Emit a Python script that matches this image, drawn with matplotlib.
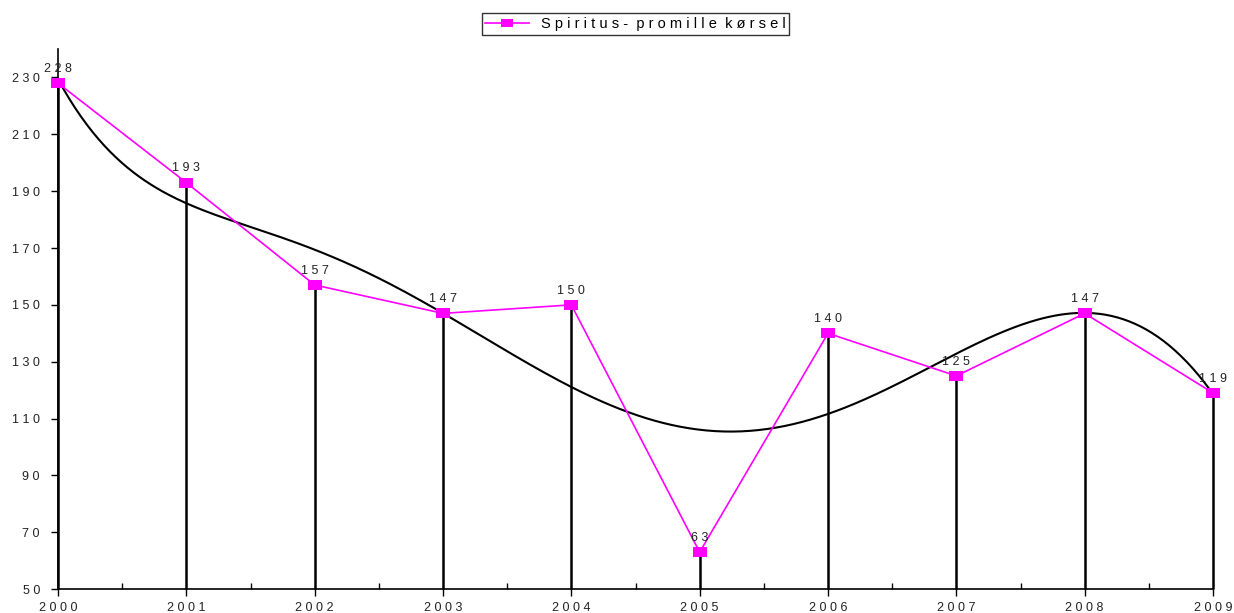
import numpy as np
import matplotlib
matplotlib.use('Agg')
import matplotlib.pyplot as plt
from matplotlib.ticker import FixedLocator

plt.rcParams['font.family'] = ['Liberation Sans', 'DejaVu Sans']

# Data
years = [2000, 2001, 2002, 2003, 2004, 2005, 2006, 2007, 2008, 2009]
values = [228, 193, 157, 147, 150, 63, 140, 125, 147, 119]
series_name = "Spiritus-promille kørsel"


def spaced(s):
    # Excel-export look: wide letter spacing
    return " ".join(str(s))


# rectangular (wider than tall) marker like the Excel export
rect_marker = [(-1.35, -1), (1.35, -1), (1.35, 1), (-1.35, 1), (-1.35, -1)]

fig = plt.figure(figsize=(12.34, 6.13), dpi=100)
ax = fig.add_axes([0.047, 0.039, 0.936, 0.881])

x = np.arange(len(years))

# drop lines to the axis
ax.vlines(x, 50, values, colors='black', linewidth=1.8, zorder=2, clip_on=False)

# polynomial trendline (order 6, like Excel)
coef = np.polyfit(x, values, 6)
xs = np.linspace(0, len(years) - 1, 400)
ax.plot(xs, np.polyval(coef, xs), color='black', linewidth=1.5, zorder=3, clip_on=False)

# series
ax.plot(x, values, color='#ff00ff', linewidth=1.2, marker=rect_marker, markersize=10,
        markerfacecolor='#ff00ff', markeredgecolor='#ff00ff', markeredgewidth=0,
        zorder=4, clip_on=False,
        label=spaced("Spiritus-") + "  " + spaced("promille") + "  " + spaced("kørsel"))

for xi, v in zip(x, values):
    ax.annotate(spaced(v), (xi, v), textcoords='offset points', xytext=(0, 6),
                ha='center', va='bottom', fontsize=9, color='#222222', zorder=5)

ax.set_xlim(0, len(years) - 1)
ax.set_ylim(50, 240)

ax.yaxis.set_major_locator(FixedLocator(list(range(50, 231, 20))))
ax.set_yticklabels([spaced(v) for v in range(50, 231, 20)], fontsize=9)
ax.set_xticks(x)
ax.set_xticklabels([spaced(y) for y in years], fontsize=9)
ax.xaxis.set_minor_locator(FixedLocator(x[:-1] + 0.5))

ax.tick_params(axis='x', which='major', direction='out', length=5, width=1, pad=4)
ax.tick_params(axis='x', which='minor', direction='in', length=4, width=1)
ax.tick_params(axis='y', direction='out', length=5, width=1, pad=8)

ax.spines['top'].set_visible(False)
ax.spines['right'].set_visible(False)
ax.spines['left'].set_linewidth(1.2)
ax.spines['bottom'].set_linewidth(1.2)
for lab in ax.get_xticklabels() + ax.get_yticklabels():
    lab.set_color('#222222')

leg = fig.legend(loc='upper center', bbox_to_anchor=(0.515, 0.99), fontsize=10.5,
                 frameon=True, fancybox=False, edgecolor='black',
                 handlelength=3, borderpad=0.25, markerscale=0.8)
leg.get_frame().set_linewidth(1)

fig.savefig('out.png', dpi=100)
